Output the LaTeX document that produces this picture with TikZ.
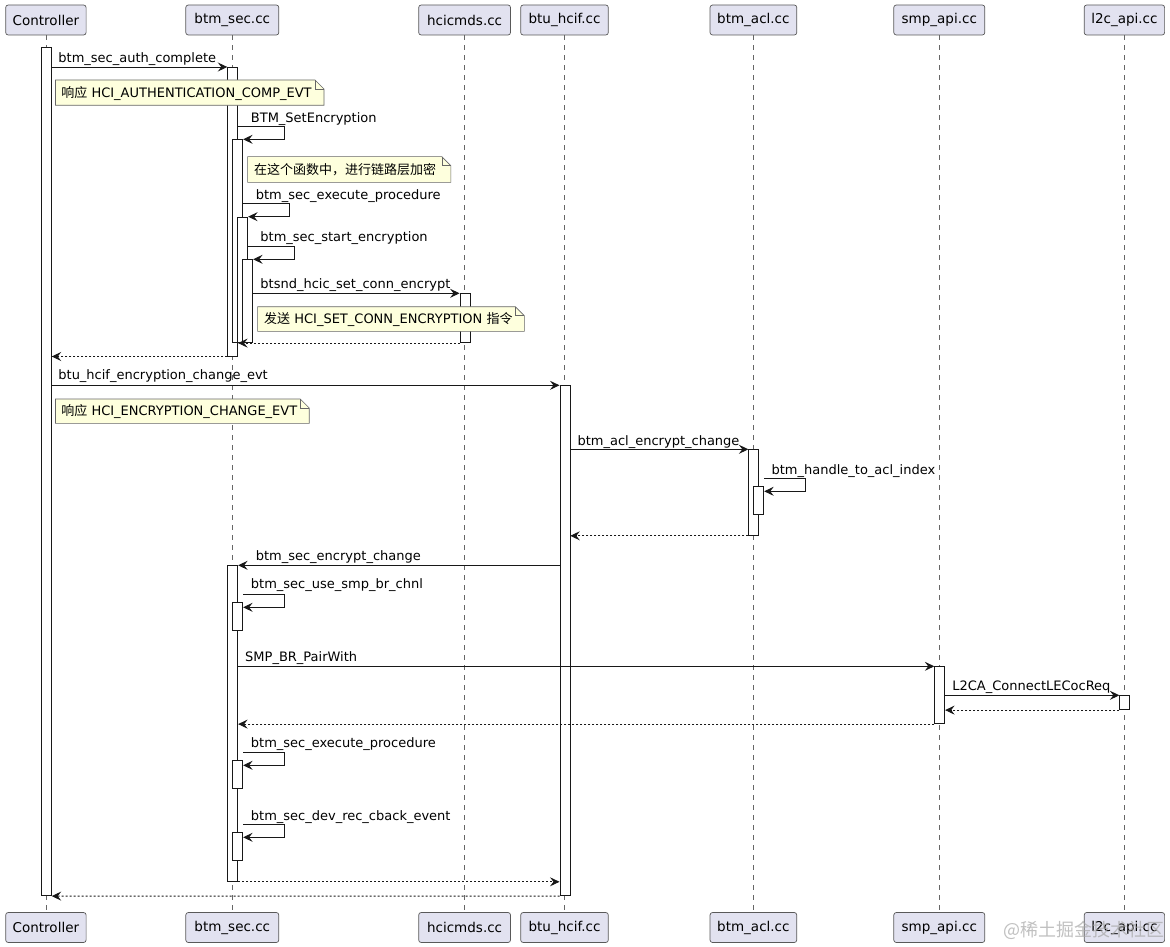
\documentclass[tikz,border=0pt]{standalone}
\usepackage{fontspec}
\setmainfont{DejaVu Sans}
\newfontfamily\cjk{Noto Sans CJK SC}
\usetikzlibrary{arrows.meta}
\definecolor{partfill}{HTML}{E2E2F0}
\definecolor{notefill}{HTML}{FEFFDD}
\definecolor{ink}{HTML}{181818}
\begin{document}
\begin{tikzpicture}[x=1pt,y=-1pt,
  part/.style={draw=black!65, line width=0.7pt, fill=partfill, rounded corners=2.5pt, minimum height=30pt, inner sep=0pt, font=\fontsize{13.5}{16}\selectfont},
  life/.style={draw=black!60, line width=0.6pt, dash pattern=on 5pt off 5pt},
  abar/.style={draw=ink, line width=0.8pt, fill=white, minimum width=10pt, inner sep=0pt, anchor=north west},
  msg/.style={draw=ink, line width=0.9pt, -{Stealth[length=9.5pt,width=9pt,inset=3.5pt]}},
  ret/.style={msg, dash pattern=on 2pt off 2pt},
  lbl/.style={font=\fontsize{13}{15}\selectfont, inner sep=0pt, anchor=base west},
  notebox/.style={draw=black!60, line width=0.6pt, fill=notefill, line join=miter},
  ]
\useasboundingbox (0,0) rectangle (1170,947);
\fill[white] (0,0) rectangle (1170,947);

% participants
\foreach \n/\x/\w/\t in {C/45.9/80.4/Controller, S/232.3/93/btm\_sec.cc, H/464.6/91.8/hcicmds.cc, B/564.5/87.6/btu\_hcif.cc, A/753.4/86.7/btm\_acl.cc, P/939.3/91/smp\_api.cc, L/1124.4/80.4/l2c\_api.cc}{
  \node[part, minimum width=\w pt] (\n top) at (\x,20) {\t};
  \node[part, minimum width=\w pt] (\n bot) at (\x,927.5) {\t};
  \draw[life] (\n top.south) -- (\n bot.north);
}

% activation bars
\node[abar, minimum height=848.3pt] (c1) at (40.9,47) {};
\node[abar, minimum height=288.7pt] (s1) at (227.3,67) {};
\node[abar, minimum height=203pt] (s2) at (232.3,139.3) {};
\node[abar, minimum height=125.6pt] (s3) at (237.3,216.7) {};
\node[abar, minimum height=83pt] (s4) at (242.3,259.3) {};
\node[abar, minimum height=49pt] (h1) at (459.6,293.3) {};
\node[abar, minimum height=510pt] (b1) at (559.5,385.3) {};
\node[abar, minimum height=85.7pt] (a1) at (748.4,449.3) {};
\node[abar, minimum height=28pt] (a2) at (753.4,486.3) {};
\node[abar, minimum height=315.7pt] (s5) at (227.3,565.3) {};
\node[abar, minimum height=28pt] (s6) at (232.3,602) {};
\node[abar, minimum height=57pt] (p1) at (934.3,666.3) {};
\node[abar, minimum height=14pt] (l1) at (1119.4,695.3) {};
\node[abar, minimum height=28pt] (s7) at (232.3,760.3) {};
\node[abar, minimum height=27.7pt] (s8) at (232.3,832.3) {};

% messages
\draw[msg] (c1.east |- s1.north) -- (s1.north west);
\node[lbl] (t1) at (58.2,62.4) {btm\_sec\_auth\_complete};

\coordinate (q3) at (284.3,126.7);
\draw[msg] (s1.east |- q3) -- (q3) |- (s2.north east);
\node[lbl] (t3) at (250.7,122.4) {BTM\_SetEncryption};

\coordinate (q5) at (289.7,203.3);
\draw[msg] (s2.east |- q5) -- (q5) |- (s3.north east);
\node[lbl] (t5) at (255.6,199.4) {btm\_sec\_execute\_procedure};

\coordinate (q6) at (294.3,246.7);
\draw[msg] (s3.east |- q6) -- (q6) |- (s4.north east);
\node[lbl] (t6) at (260.2,241.4) {btm\_sec\_start\_encryption};

\draw[msg] (s4.east |- h1.north) -- (h1.north west);
\node[lbl] (t7) at (260.2,288) {btsnd\_hcic\_set\_conn\_encrypt};

\draw[ret] (h1.south west) -- (s1.east |- h1.south);
\draw[ret] (s1.south west) -- (c1.east |- s1.south);

\draw[msg] (c1.east |- b1.north) -- (b1.north west);
\node[lbl] (t11) at (58.2,379.7) {btu\_hcif\_encryption\_change\_evt};

\draw[msg] (b1.east |- a1.north) -- (a1.north west);
\node[lbl] (t13) at (577.4,445.4) {btm\_acl\_encrypt\_change};

\coordinate (q14) at (805.6,478);
\coordinate (r14) at (805.6,491.3);
\draw[msg] (a2.east |- q14) -- (q14) -- (r14) -- (a2.east |- r14);
\node[lbl] (t14) at (771.4,474) {btm\_handle\_to\_acl\_index};

\draw[ret] (a1.south west) -- (b1.east |- a1.south);

\draw[msg] (b1.west |- s5.north) -- (s5.north east);
\node[lbl] (t16) at (255.6,560.4) {btm\_sec\_encrypt\_change};

\coordinate (q17) at (284.7,594.3);
\coordinate (r17) at (284.7,607.3);
\draw[msg] (s6.east |- q17) -- (q17) -- (r17) -- (s6.east |- r17);
\node[lbl] (t17) at (250.7,588.7) {btm\_sec\_use\_smp\_br\_chnl};

\draw[msg] (s5.east |- p1.north) -- (p1.north west);
\node[lbl] (t18) at (245,661.4) {SMP\_BR\_PairWith};

\draw[msg] (p1.east |- l1.north) -- (l1.north west);
\node[lbl] (t19) at (952.2,690.4) {L2CA\_ConnectLECocReq};

\draw[ret] (l1.south west) -- (p1.east |- l1.south);
\draw[ret] (p1.south west) -- (s5.east |- p1.south);

\coordinate (q22) at (284.7,752.3);
\coordinate (r22) at (284.7,765.3);
\draw[msg] (s7.east |- q22) -- (q22) -- (r22) -- (s7.east |- r22);
\node[lbl] (t22) at (250.7,747) {btm\_sec\_execute\_procedure};

\coordinate (q23) at (284.7,824.3);
\coordinate (r23) at (284.7,837.3);
\draw[msg] (s8.east |- q23) -- (q23) -- (r23) -- (s8.east |- r23);
\node[lbl] (t23) at (250.7,820) {btm\_sec\_dev\_rec\_cback\_event};

\draw[ret] (s5.south east) -- (b1.west |- s5.south);
\draw[ret] (b1.south west) -- (c1.south east);

% notes
\newcommand{\notebox}[4]{% x1 y1 x2 y2
  \filldraw[notebox] (#1,#2) -- ({#3-9},#2) -- (#3,{#2+9}) -- (#3,#4) -- (#1,#4) -- cycle;
  \draw[notebox, fill=none] ({#3-9},#2) -- ({#3-9},{#2+9}) -- (#3,{#2+9});
}
\notebox{55.5}{80}{324}{105.3}
\node[lbl] (n1) at (61.2,97.4) {{\cjk 响应} HCI\_AUTHENTICATION\_COMP\_EVT};
\notebox{247.6}{156.7}{450.8}{182.3}
\node[lbl] (n2) at (254,174.2) {\cjk 在这个函数中，进行链路层加密};
\notebox{257.6}{306.7}{524.3}{331.3}
\node[lbl] (n3) at (264,323.7) {{\cjk 发送} HCI\_SET\_CONN\_ENCRYPTION {\cjk 指令}};
\notebox{55.5}{399}{309.2}{423.3}
\node[lbl] (n4) at (61.2,415.8) {{\cjk 响应} HCI\_ENCRYPTION\_CHANGE\_EVT};

% watermark
\node[font=\cjk\fontsize{18}{20}\selectfont, text=black!35, opacity=0.7, anchor=center] (wm) at (1084,930) {@稀土掘金技术社区};
\end{tikzpicture}
\end{document}
